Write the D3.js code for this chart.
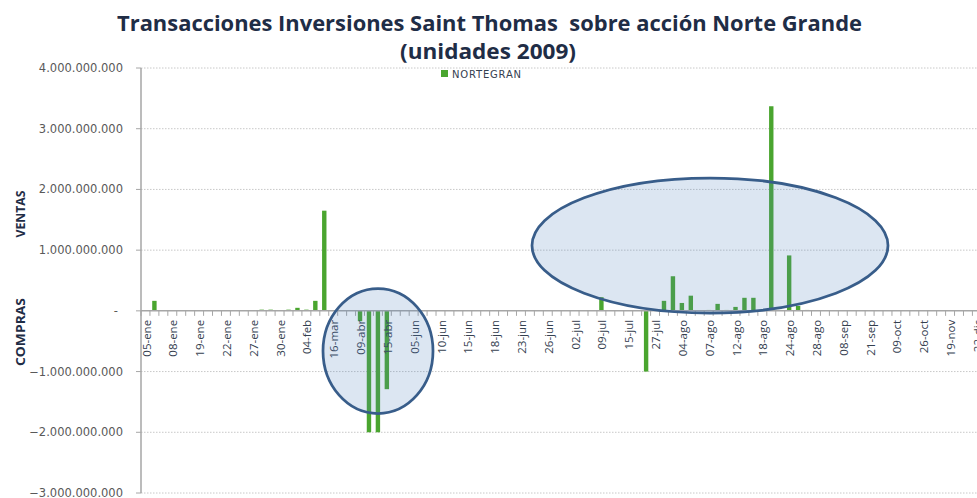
<!DOCTYPE html>
<html lang="es">
<head>
  <meta charset="UTF-8">
  <title>Transacciones Inversiones Saint Thomas</title>
  <script src="https://d3js.org/d3.v7.min.js"></script>
  <style>
    body { margin: 0; background: #fff; }
    svg { display: block; }
    .title { font-family: "Open Sans", sans-serif; font-weight: bold; fill: #1f2d46; white-space: pre; }
    .ytick { font-family: "DejaVu Sans", Verdana, sans-serif; font-size: 11.5px; fill: #595959; }
    .xtick { font-family: "Open Sans", sans-serif; font-size: 11.5px; fill: #34404f; }
    .ytitle { font-family: "Open Sans", sans-serif; font-weight: bold; font-size: 13px; fill: #1f2d46; }
  </style>
</head>
<body>
<svg width="977" height="498"></svg>

<script>
  // labels shown every 3rd category
  const tickLabels = ["05-ene","08-ene","19-ene","22-ene","27-ene","30-ene","04-feb","16-mar",
    "09-abr","15-abr","05-jun","10-jun","15-jun","18-jun","23-jun","26-jun","02-jul","09-jul",
    "15-jul","27-jul","04-ago","07-ago","12-ago","18-ago","24-ago","28-ago","08-sep","21-sep",
    "09-oct","26-oct","19-nov","22-dic"];

  // NORTEGRAN (units), one per category
  const values = [
    0, 1.65e8, 0, 0, 0, 0, 0, 0, 0, 0,
    0, 0, 0, 2e7, 2e7, 0, 2e7, 5e7, 2e7, 1.65e8,
    1.65e9, 0, 0, 0, -1.7e8, -2e9, -2e9, -1.29e9, 0, 0,
    0, 0, 0, 0, 0, 0, 0, 0, 0, 0,
    0, 0, 0, 0, 0, 0, 0, 0, 0, 0,
    0, 2.25e8, 1.2e7, 1.2e7, 1.2e7, 1.2e7, -1e9, 0, 1.65e8, 5.7e8,
    1.3e8, 2.5e8, 0, 1.5e7, 1.15e8, 1.5e7, 6.5e7, 2.15e8, 2.15e8, 0,
    3.37e9, 1.5e7, 9.13e8, 8e7, 1.5e7, 0, 0, 0, 0, 0,
    0, 0, 0, 0, 0, 0, 0, 0, 0, 0,
    0, 0, 0, 0, 0
  ];

  const yTicks = [-3e9, -2e9, -1e9, 0, 1e9, 2e9, 3e9, 4e9];

  const svg = d3.select("svg");
  const left = 141, step = 8.94;

  const x = d3.scaleBand()
    .domain(d3.range(values.length))
    .range([left, left + step * values.length])
    .paddingInner(0).paddingOuter(0);

  const y = d3.scaleLinear().domain([-3e9, 4e9]).range([493, 68]);

  const fmt = v => v === 0 ? "-" : d3.format(",")(v).replace(/,/g, ".");

  // gridlines
  svg.append("g").selectAll("line")
    .data(yTicks.filter(d => d !== 0))
    .join("line")
    .attr("x1", left).attr("x2", 977)
    .attr("y1", d => y(d)).attr("y2", d => y(d))
    .attr("stroke", "#c8c8c8")
    .attr("stroke-dasharray", "1.5,1.5");

  // y axis
  svg.append("line")
    .attr("x1", left).attr("x2", left)
    .attr("y1", y(4e9)).attr("y2", y(-3e9))
    .attr("stroke", "#a6a6a6").attr("stroke-width", 1.5);

  svg.append("g").selectAll("line")
    .data(yTicks)
    .join("line")
    .attr("x1", left - 5).attr("x2", left)
    .attr("y1", d => y(d)).attr("y2", d => y(d))
    .attr("stroke", "#a6a6a6");

  svg.append("g").selectAll("text")
    .data(yTicks)
    .join("text")
    .attr("class", "ytick")
    .attr("x", d => d === 0 ? 118 : 123)
    .attr("y", d => y(d))
    .attr("dy", "0.35em")
    .attr("text-anchor", "end")
    .text(fmt);

  // bars
  svg.append("g").selectAll("rect")
    .data(values.map((v, i) => ({ i, v })).filter(d => d.v !== 0))
    .join("rect")
    .attr("x", d => x(d.i) + x.bandwidth() / 2 - 2.2)
    .attr("width", 4.4)
    .attr("y", d => y(Math.max(0, d.v)))
    .attr("height", d => Math.abs(y(d.v) - y(0)))
    .attr("fill", "#4aa52f");

  // x axis
  const y0 = y(0);
  svg.append("line")
    .attr("x1", left).attr("x2", 977)
    .attr("y1", y0).attr("y2", y0)
    .attr("stroke", "#a6a6a6").attr("stroke-width", 1.5);

  svg.append("g").selectAll("line")
    .data(d3.range(values.length + 1))
    .join("line")
    .attr("x1", i => left + i * step).attr("x2", i => left + i * step)
    .attr("y1", y0).attr("y2", y0 + 5)
    .attr("stroke", "#a6a6a6");

  svg.append("g").selectAll("text")
    .data(tickLabels)
    .join("text")
    .attr("class", "xtick")
    .attr("transform", (d, k) => `translate(${x(k * 3) + x.bandwidth() / 2 + 1},${y0 + 9}) rotate(-90)`)
    .attr("dy", "0.35em")
    .attr("text-anchor", "end")
    .text(d => d);

  // axis titles
  svg.append("text").attr("class", "ytitle")
    .attr("transform", "translate(20,214) rotate(-90)")
    .attr("dy", "0.35em").attr("text-anchor", "middle")
    .attr("textLength", 47).attr("lengthAdjust", "spacingAndGlyphs")
    .text("VENTAS");
  svg.append("text").attr("class", "ytitle")
    .attr("transform", "translate(20,332) rotate(-90)")
    .attr("dy", "0.35em").attr("text-anchor", "middle")
    .attr("textLength", 68).attr("lengthAdjust", "spacingAndGlyphs")
    .text("COMPRAS");

  // title
  svg.append("text").attr("class", "title")
    .attr("x", 117).attr("y", 31).attr("font-size", 21)
    .attr("textLength", 745).attr("lengthAdjust", "spacingAndGlyphs")
    .text("Transacciones Inversiones Saint Thomas  sobre acción Norte Grande");
  svg.append("text").attr("class", "title")
    .attr("x", 400).attr("y", 59).attr("font-size", 21)
    .attr("textLength", 176).attr("lengthAdjust", "spacingAndGlyphs")
    .text("(unidades 2009)");

  // legend
  svg.append("rect").attr("x", 441).attr("y", 70).attr("width", 7).attr("height", 7).attr("fill", "#4aa52f");
  svg.append("text")
    .attr("x", 452).attr("y", 74).attr("dy", "0.35em")
    .attr("font-family", "DejaVu Sans, sans-serif").attr("font-size", 10)
    .attr("letter-spacing", 0.8)
    .attr("fill", "#34404f")
    .text("NORTEGRAN");

  // highlight ellipses
  const marks = [
    { cx: 378, cy: 351, rx: 55, ry: 62.5 },
    { cx: 710, cy: 245.5, rx: 178, ry: 67.5 }
  ];
  svg.append("g").selectAll("ellipse")
    .data(marks)
    .join("ellipse")
    .attr("cx", d => d.cx).attr("cy", d => d.cy)
    .attr("rx", d => d.rx).attr("ry", d => d.ry)
    .attr("fill", "rgba(79,129,189,0.2)")
    .attr("stroke", "#385d8a")
    .attr("stroke-width", 2.75);
</script>
</body>
</html>
